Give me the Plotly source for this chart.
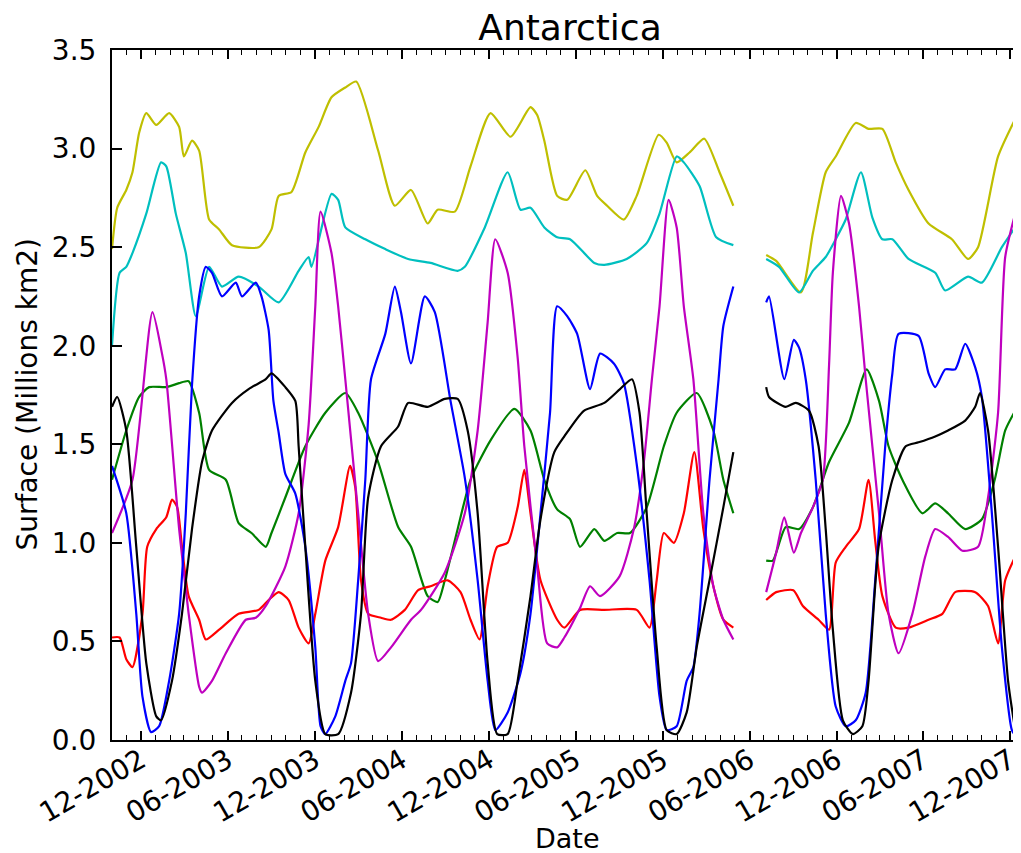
import plotly.graph_objects as go

# ---------------- data ----------------
yel_dates = ["2002-10-01", "2002-10-12", "2002-10-31", "2002-11-13", "2002-11-27", "2002-12-12",
             "2003-01-02", "2003-01-29", "2003-02-19", "2003-03-01", "2003-03-18", "2003-04-02",
             "2003-04-23", "2003-05-14", "2003-06-10", "2003-08-05", "2003-09-01", "2003-09-16",
             "2003-10-13", "2003-11-11", "2003-12-09", "2004-01-05", "2004-02-03", "2004-02-26",
             "2004-04-12", "2004-05-17", "2004-06-20", "2004-07-25", "2004-08-15", "2004-09-20",
             "2004-10-23", "2004-12-04", "2005-01-15", "2005-02-26", "2005-03-12", "2005-03-27",
             "2005-04-23", "2005-05-14", "2005-06-21", "2005-07-16", "2005-08-06", "2005-09-10",
             "2005-10-07", "2005-11-22", "2005-12-09", "2005-12-30", "2006-01-26", "2006-02-26",
             "2006-03-30", "2006-04-28", "2006-06-01", "2006-07-06", "2006-07-27", "2006-09-17",
             "2006-10-12", "2006-11-08", "2006-11-29", "2007-01-10", "2007-02-06", "2007-03-07",
             "2007-04-04", "2007-05-01", "2007-06-12", "2007-07-31", "2007-09-03", "2007-09-24",
             "2007-11-05", "2007-12-11"]
yel_vals = [2.49, 2.70, 2.79, 2.88, 3.08, 3.18,
            3.12, 3.18, 3.11, 2.96, 3.04, 2.99,
            2.64, 2.59, 2.51, 2.50, 2.59, 2.76,
            2.78, 2.98, 3.11, 3.26, 3.31, 3.34,
            2.99, 2.71, 2.79, 2.62, 2.69, 2.68,
            2.91, 3.18, 3.06, 3.21, 3.17, 3.04,
            2.76, 2.74, 2.89, 2.76, 2.71, 2.64,
            2.76, 3.07, 3.03, 2.93, 2.98, 3.05,
            2.88, 2.71, None, 2.46, 2.43, 2.27,
            2.57, 2.88, 2.96, 3.13, 3.10, 3.10,
            2.93, 2.79, 2.62, 2.54, 2.44, 2.50,
            2.96, 3.15]

cya_dates = ["2002-10-01", "2002-10-17", "2002-10-31", "2002-11-13", "2002-12-12", "2003-01-12",
             "2003-01-23", "2003-02-12", "2003-03-05", "2003-03-26", "2003-04-23", "2003-05-20",
             "2003-06-24", "2003-08-05", "2003-09-16", "2003-10-28", "2003-11-18", "2003-11-24",
             "2004-01-05", "2004-01-19", "2004-02-03", "2004-03-16", "2004-04-27", "2004-06-14",
             "2004-07-31", "2004-09-26", "2004-10-11", "2004-11-22", "2005-01-09", "2005-02-05",
             "2005-02-26", "2005-03-27", "2005-04-23", "2005-05-20", "2005-07-10", "2005-07-31",
             "2005-09-16", "2005-10-28", "2005-11-24", "2005-12-30", "2006-01-14", "2006-02-16",
             "2006-03-23", "2006-04-28", "2006-06-01", "2006-07-06", "2006-08-02", "2006-09-13",
             "2006-10-12", "2006-11-08", "2006-11-29", "2006-12-20", "2007-01-21", "2007-02-14",
             "2007-03-07", "2007-03-28", "2007-05-01", "2007-06-26", "2007-07-17", "2007-09-03",
             "2007-10-02", "2007-11-13", "2007-12-11"]
cya_vals = [2.00, 2.37, 2.40, 2.47, 2.67, 2.93,
            2.91, 2.67, 2.47, 2.15, 2.40, 2.30,
            2.35, 2.30, 2.22, 2.38, 2.45, 2.40,
            2.77, 2.74, 2.60, 2.54, 2.49, 2.44,
            2.42, 2.38, 2.40, 2.60, 2.88, 2.69,
            2.70, 2.60, 2.55, 2.54, 2.42, 2.41,
            2.44, 2.52, 2.67, 2.96, 2.93, 2.81,
            2.55, 2.51, None, 2.44, 2.40, 2.27,
            2.38, 2.45, 2.54, 2.64, 2.88, 2.65,
            2.54, 2.54, 2.44, 2.37, 2.28, 2.35,
            2.32, 2.50, 2.60]

mag_dates = ["2002-10-01", "2002-11-13", "2002-12-25", "2003-01-14", "2003-01-23", "2003-02-19",
             "2003-03-11", "2003-04-02", "2003-04-08", "2003-04-29", "2003-05-28", "2003-07-09",
             "2003-07-30", "2003-08-20", "2003-09-30", "2003-10-28", "2003-11-18", "2003-12-02",
             "2003-12-13", "2004-01-05", "2004-01-19", "2004-02-03", "2004-03-01", "2004-03-22",
             "2004-04-12", "2004-05-09", "2004-06-20", "2004-07-11", "2004-08-30", "2004-10-11",
             "2004-11-07", "2004-11-28", "2004-12-14", "2005-01-09", "2005-01-30", "2005-02-13",
             "2005-03-12", "2005-04-02", "2005-04-23", "2005-05-08", "2005-06-10", "2005-07-01",
             "2005-07-22", "2005-09-01", "2005-10-01", "2005-10-22", "2005-11-08", "2005-11-24",
             "2005-12-13", "2005-12-30", "2006-01-14", "2006-02-03", "2006-02-24", "2006-03-17",
             "2006-04-07", "2006-04-28", "2006-06-01", "2006-07-06", "2006-07-27", "2006-08-13",
             "2006-09-02", "2006-09-17", "2006-10-12", "2006-11-02", "2006-11-15", "2006-11-23",
             "2006-12-10", "2006-12-27", "2007-01-17", "2007-01-31", "2007-02-28", "2007-03-20",
             "2007-04-10", "2007-05-09", "2007-06-05", "2007-06-26", "2007-07-23", "2007-08-22",
             "2007-09-24", "2007-10-15", "2007-11-05", "2007-11-20", "2007-12-11"]
mag_vals = [1.05, 1.32, 2.17, 1.96, 1.83, 1.07,
            0.64, 0.27, 0.24, 0.30, 0.44, 0.61,
            0.62, 0.68, 0.88, 1.15, 1.60, 2.20,
            2.68, 2.47, 2.20, 1.83, 1.15, 0.64,
            0.40, 0.47, 0.61, 0.66, 0.85, 1.15,
            1.57, 2.12, 2.54, 2.37, 1.94, 1.49,
            0.88, 0.49, 0.47, 0.52, 0.67, 0.78,
            0.73, 0.83, 1.07, 1.41, 1.83, 2.20,
            2.74, 2.60, 2.20, 1.83, 1.15, 0.78,
            0.61, 0.51, None, 0.75, 0.95, 1.13,
            0.95, 1.05, 1.18, 1.32, 1.90, 2.37,
            2.76, 2.62, 2.20, 1.83, 1.15, 0.64,
            0.44, 0.64, 0.93, 1.07, 1.03, 0.96,
            0.98, 1.23, 1.66, 2.45, 2.67]

blu_dates = ["2002-10-01", "2002-10-31", "2002-11-21", "2002-12-04", "2002-12-22", "2003-01-08",
             "2003-01-29", "2003-02-19", "2003-03-05", "2003-03-18", "2003-04-02", "2003-04-16",
             "2003-04-29", "2003-05-20", "2003-06-18", "2003-07-01", "2003-07-30", "2003-08-11",
             "2003-08-26", "2003-09-05", "2003-09-16", "2003-09-30", "2003-10-21", "2003-11-11",
             "2003-12-02", "2003-12-13", "2003-12-23", "2004-01-13", "2004-02-03", "2004-02-15",
             "2004-03-01", "2004-03-16", "2004-03-28", "2004-04-27", "2004-05-17", "2004-05-30",
             "2004-06-20", "2004-07-19", "2004-08-09", "2004-09-11", "2004-10-11", "2004-11-07",
             "2004-11-28", "2004-12-14", "2005-01-09", "2005-02-05", "2005-02-26", "2005-03-19",
             "2005-04-08", "2005-04-23", "2005-05-14", "2005-06-04", "2005-07-01", "2005-07-22",
             "2005-08-20", "2005-09-10", "2005-10-07", "2005-11-03", "2005-11-24", "2005-12-09",
             "2005-12-30", "2006-01-20", "2006-02-03", "2006-02-16", "2006-03-09", "2006-03-28",
             "2006-04-07", "2006-04-28", "2006-06-01", "2006-07-06", "2006-07-12", "2006-08-13",
             "2006-09-02", "2006-09-13", "2006-09-27", "2006-10-18", "2006-11-08", "2006-11-29",
             "2006-12-20", "2007-01-10", "2007-01-31", "2007-02-20", "2007-03-13", "2007-03-28",
             "2007-04-10", "2007-05-22", "2007-06-12", "2007-06-26", "2007-07-17", "2007-08-07",
             "2007-08-28", "2007-09-18", "2007-10-02", "2007-10-23", "2007-11-13", "2007-12-04",
             "2007-12-12"]
blu_vals = [1.39, 1.15, 0.64, 0.22, 0.04, 0.07,
            0.30, 0.64, 1.15, 1.80, 2.25, 2.40,
            2.37, 2.25, 2.32, 2.25, 2.32, 2.25,
            2.08, 1.72, 1.56, 1.35, 1.25, 0.98,
            0.47, 0.07, 0.03, 0.12, 0.30, 0.39,
            0.81, 1.32, 1.83, 2.06, 2.30, 2.17,
            1.91, 2.25, 2.17, 1.72, 1.33, 0.81,
            0.30, 0.05, 0.14, 0.34, 0.64, 1.15,
            1.66, 2.20, 2.15, 2.06, 1.78, 1.96,
            1.91, 1.81, 1.40, 0.81, 0.22, 0.05,
            0.07, 0.30, 0.37, 0.64, 1.32, 1.83,
            2.10, 2.30, None, 2.22, 2.25, 1.83,
            2.03, 1.99, 1.83, 1.32, 0.64, 0.17,
            0.07, 0.10, 0.24, 0.81, 1.49, 1.86,
            2.06, 2.05, 1.86, 1.79, 1.88, 1.88,
            2.01, 1.89, 1.74, 1.15, 0.47, 0.05,
            0.02]

blk_dates = ["2002-10-01", "2002-10-12", "2002-10-31", "2002-11-21", "2002-12-12", "2003-01-02",
             "2003-01-12", "2003-02-04", "2003-02-25", "2003-03-18", "2003-04-08", "2003-04-29",
             "2003-06-10", "2003-07-15", "2003-08-20", "2003-09-01", "2003-09-30", "2003-10-21",
             "2003-10-28", "2003-11-11", "2003-12-02", "2003-12-23", "2004-01-19", "2004-02-15",
             "2004-03-07", "2004-03-22", "2004-04-18", "2004-05-24", "2004-06-14", "2004-07-25",
             "2004-08-30", "2004-09-26", "2004-10-17", "2004-11-07", "2004-11-28", "2004-12-18",
             "2005-01-09", "2005-01-30", "2005-02-26", "2005-03-19", "2005-04-17", "2005-05-08",
             "2005-06-18", "2005-07-31", "2005-09-02", "2005-09-27", "2005-10-13", "2005-10-28",
             "2005-11-18", "2005-12-09", "2005-12-30", "2006-01-20", "2006-02-10", "2006-03-09",
             "2006-04-07", "2006-04-28", "2006-06-01", "2006-07-06", "2006-07-12", "2006-08-16",
             "2006-09-06", "2006-10-04", "2006-10-24", "2006-11-08", "2006-11-23", "2006-12-14",
             "2007-01-04", "2007-01-24", "2007-02-06", "2007-02-27", "2007-03-28", "2007-04-25",
             "2007-05-22", "2007-06-26", "2007-07-23", "2007-08-28", "2007-09-18", "2007-09-28",
             "2007-10-15", "2007-11-05", "2007-11-26", "2007-12-11"]
blk_vals = [1.69, 1.74, 1.57, 0.98, 0.39, 0.12,
            0.10, 0.30, 0.64, 1.07, 1.41, 1.57,
            1.71, 1.78, 1.83, 1.86, 1.79, 1.72,
            1.49, 0.98, 0.30, 0.03, 0.03, 0.24,
            0.64, 1.23, 1.49, 1.59, 1.71, 1.69,
            1.73, 1.73, 1.57, 1.15, 0.39, 0.03,
            0.03, 0.30, 0.73, 1.12, 1.46, 1.54,
            1.67, 1.71, 1.78, 1.83, 1.66, 1.15,
            0.47, 0.05, 0.03, 0.14, 0.47, 0.81,
            1.18, 1.46, None, 1.79, 1.74, 1.69,
            1.71, 1.67, 1.49, 1.07, 0.56, 0.10,
            0.03, 0.07, 0.30, 0.98, 1.32, 1.49,
            1.51, 1.54, 1.57, 1.62, 1.69, 1.76,
            1.57, 0.98, 0.30, 0.05]

grn_dates = ["2002-10-01", "2002-10-31", "2002-11-27", "2002-12-18", "2003-01-23", "2003-02-19",
             "2003-03-11", "2003-04-02", "2003-04-23", "2003-05-28", "2003-06-24",
             "2003-07-21", "2003-08-20", "2003-09-01", "2003-09-30", "2003-11-11", "2003-12-23",
             "2004-02-03", "2004-03-01", "2004-04-12", "2004-05-24", "2004-06-20", "2004-07-25",
             "2004-08-15", "2004-08-30", "2004-09-26", "2004-10-23", "2004-12-04", "2005-01-23",
             "2005-02-26", "2005-03-27", "2005-04-23", "2005-05-20", "2005-06-10", "2005-07-10",
             "2005-07-31", "2005-08-27", "2005-09-23", "2005-10-28", "2005-12-03", "2005-12-30",
             "2006-02-10", "2006-03-17", "2006-04-07", "2006-04-28", "2006-06-01", "2006-07-06",
             "2006-07-20", "2006-08-16", "2006-09-13", "2006-10-12", "2006-11-15", "2006-12-27",
             "2007-02-02", "2007-02-28", "2007-03-20", "2007-04-18", "2007-05-30", "2007-06-26",
             "2007-07-23", "2007-08-28", "2007-10-02", "2007-10-29", "2007-11-20", "2007-12-11"]
grn_vals = [1.32, 1.57, 1.74, 1.79, 1.79, 1.81,
            1.82, 1.66, 1.37, 1.32, 1.10,
            1.05, 0.98, 1.05, 1.23, 1.49, 1.66,
            1.76, 1.66, 1.41, 1.08, 0.98, 0.73,
            0.70, 0.81, 1.07, 1.32, 1.52, 1.68,
            1.57, 1.32, 1.17, 1.12, 0.98, 1.07,
            1.01, 1.05, 1.05, 1.18, 1.49, 1.66,
            1.76, 1.57, 1.32, 1.15, None, 0.91,
            0.91, 1.08, 1.07, 1.18, 1.41, 1.61,
            1.88, 1.72, 1.49, 1.32, 1.15, 1.20,
            1.15, 1.07, 1.12, 1.32, 1.57, 1.67]

red_dates = ["2002-10-01", "2002-10-17", "2002-10-31", "2002-11-13", "2002-12-04", "2002-12-14",
             "2003-01-02", "2003-01-23", "2003-02-04", "2003-02-15", "2003-02-25", "2003-03-11",
             "2003-04-02", "2003-04-16", "2003-05-14", "2003-06-24", "2003-08-05", "2003-08-26",
             "2003-09-16", "2003-10-07", "2003-10-28", "2003-11-18", "2003-12-02", "2003-12-23",
             "2004-01-19", "2004-02-13", "2004-02-24", "2004-03-07", "2004-03-22", "2004-04-18",
             "2004-05-09", "2004-06-07", "2004-07-05", "2004-07-31", "2004-09-05", "2004-10-02",
             "2004-10-23", "2004-11-11", "2004-11-28", "2004-12-18", "2005-01-09", "2005-01-30",
             "2005-02-13", "2005-02-26", "2005-03-19", "2005-04-23", "2005-05-08", "2005-06-10",
             "2005-07-31", "2005-10-07", "2005-11-03", "2005-11-18", "2005-12-03", "2005-12-24",
             "2006-01-14", "2006-02-05", "2006-02-24", "2006-03-17", "2006-04-07", "2006-04-28",
             "2006-06-01", "2006-07-06", "2006-07-27", "2006-09-01", "2006-09-21", "2006-10-24",
             "2006-11-15", "2006-11-29", "2006-12-20", "2007-01-17", "2007-02-06", "2007-02-20",
             "2007-03-07", "2007-04-04", "2007-05-01", "2007-06-12", "2007-07-11", "2007-08-07",
             "2007-09-18", "2007-10-15", "2007-11-05", "2007-11-20", "2007-12-11"]
red_vals = [0.52, 0.52, 0.41, 0.37, 0.64, 0.98,
            1.07, 1.13, 1.22, 1.18, 0.98, 0.73,
            0.61, 0.51, 0.56, 0.64, 0.66, 0.71,
            0.75, 0.71, 0.57, 0.49, 0.64, 0.91,
            1.08, 1.39, 1.28, 0.81, 0.64, 0.62,
            0.61, 0.66, 0.76, 0.78, 0.81, 0.75,
            0.61, 0.51, 0.78, 0.98, 1.00, 1.18,
            1.37, 1.15, 0.81, 0.61, 0.57, 0.66,
            0.66, 0.66, 0.57, 0.81, 1.05, 1.00,
            1.15, 1.46, 1.07, 0.78, 0.61, 0.57,
            None, 0.71, 0.75, 0.76, 0.68, 0.61,
            0.56, 0.90, 0.98, 1.07, 1.32, 1.01,
            0.73, 0.57, 0.57, 0.61, 0.64, 0.75,
            0.75, 0.68, 0.49, 0.81, 0.93]

series = [
    (yel_dates, yel_vals, "#bfbf00"),
    (cya_dates, cya_vals, "#00bfbf"),
    (grn_dates, grn_vals, "#008000"),
    (red_dates, red_vals, "#ff0000"),
    (mag_dates, mag_vals, "#bf00bf"),
    (blu_dates, blu_vals, "#0000ff"),
    (blk_dates, blk_vals, "#000000"),
]

tick_dates = ["2002-12-01", "2003-06-01", "2003-12-01", "2004-06-01", "2004-12-01", "2005-06-01",
              "2005-12-01", "2006-06-01", "2006-12-01", "2007-06-01", "2007-12-01"]
tick_text = ["12-2002", "06-2003", "12-2003", "06-2004", "12-2004", "06-2005",
             "12-2005", "06-2006", "12-2006", "06-2007", "12-2007"]

title_text = "Antarctica"
x_title = "Date"
y_title = "Surface (Millions km2)"
x_start = "2002-10-01"
x_end = "2007-12-12 16:00"

# The page body adds an 8 px offset, so the figure is 8 px smaller
# on each axis and all positions are measured from (8, 8).
OFF = 8
W, H = 1021 - OFF, 853 - OFF
L, T, B = 112 - OFF, 50 - OFF, 853 - 740
PW, PH = W - L, H - T - B

fig = go.Figure()
for d, v, c in series:
    fig.add_trace(go.Scatter(x=d, y=v, mode="lines",
                             line=dict(color=c, width=2.2, shape="spline", smoothing=0.6),
                             connectgaps=False, showlegend=False, hoverinfo="skip"))

FONT = "DejaVu Sans"
fig.update_layout(
    width=W, height=H,
    margin=dict(l=L, r=0, t=T, b=B, pad=0),
    paper_bgcolor="white", plot_bgcolor="white",
    font=dict(family=FONT, color="black"),
    title=dict(text=title_text, x=(570 - OFF) / W, xref="container", xanchor="center",
               y=1 - (27 - OFF) / H, yref="container", yanchor="middle",
               font=dict(size=36, family=FONT, color="black")),
)
fig.update_xaxes(
    type="date", range=[x_start, x_end],
    showgrid=False, zeroline=False,
    showline=True, linecolor="black", linewidth=2, mirror="ticks",
    ticks="inside", ticklen=9, tickwidth=1.5, tickcolor="black",
    tickmode="array", tickvals=tick_dates, ticktext=tick_text, tickangle=-30,
    ticklabeloverflow="allow", ticklabelstandoff=-9,
    tickfont=dict(size=28, family=FONT, color="black"),
    minor=dict(ticks="inside", ticklen=5, tickwidth=1.2, tickcolor="black", dtick="M1",
               tick0="2002-12-01", showgrid=False),
)
fig.update_yaxes(
    range=[0, 3.5], dtick=0.5, tick0=0, tickformat=".1f",
    showgrid=False, zeroline=False,
    showline=True, linecolor="black", linewidth=2, mirror=False,
    ticks="inside", ticklen=10, tickwidth=1.5, tickcolor="black",
    tickfont=dict(size=28, family=FONT, color="black"),
    ticklabelstandoff=8,
)
fig.add_annotation(text=x_title, xref="paper", yref="paper",
                   x=(570 - 112) / PW, y=-(838 - 740) / PH, xanchor="center", yanchor="middle",
                   showarrow=False, font=dict(size=27, family=FONT, color="black"))
fig.add_annotation(text=y_title, xref="paper", yref="paper", textangle=-90,
                   x=(27 - 112) / PW, y=(740 - 394) / PH, xanchor="center", yanchor="middle",
                   showarrow=False, font=dict(size=28, family=FONT, color="black"))

fig.write_html("out.html")
